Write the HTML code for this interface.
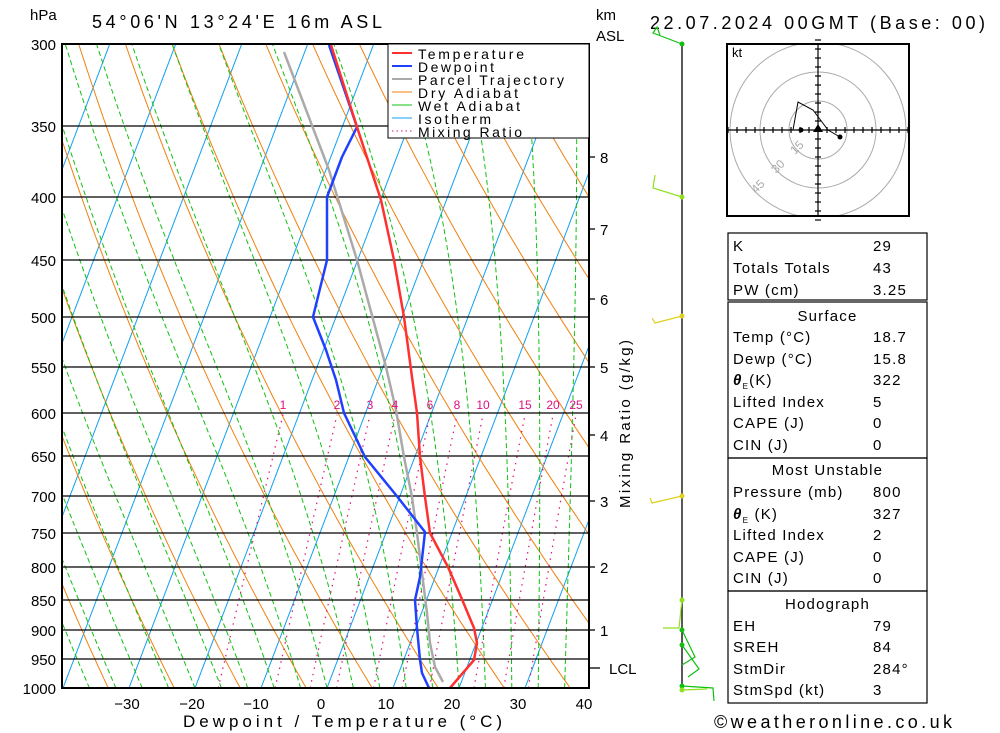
<!DOCTYPE html>
<html><head><meta charset="utf-8">
<style>
body{margin:0;background:#fff;}
svg{display:block;font-family:"Liberation Sans",sans-serif;}
</style></head><body>
<svg id="s" width="1000" height="733" viewBox="0 0 1000 733" xmlns="http://www.w3.org/2000/svg">
<defs><clipPath id="c"><rect x="62" y="44" width="527" height="644"/></clipPath></defs>
<rect width="1000" height="733" fill="#fff"/>
<g id="bg" clip-path="url(#c)"></g>
<g fill="none" stroke="#000" stroke-width="1.3">
<line x1="62" y1="44" x2="589" y2="44"/><line x1="62" y1="126" x2="589" y2="126"/><line x1="62" y1="197" x2="589" y2="197"/><line x1="62" y1="260" x2="589" y2="260"/><line x1="62" y1="317" x2="589" y2="317"/><line x1="62" y1="367" x2="589" y2="367"/><line x1="62" y1="413" x2="589" y2="413"/><line x1="62" y1="456" x2="589" y2="456"/><line x1="62" y1="496" x2="589" y2="496"/><line x1="62" y1="533" x2="589" y2="533"/><line x1="62" y1="567" x2="589" y2="567"/><line x1="62" y1="600" x2="589" y2="600"/><line x1="62" y1="630" x2="589" y2="630"/><line x1="62" y1="659" x2="589" y2="659"/><line x1="62" y1="688" x2="589" y2="688"/>
</g>
<g clip-path="url(#c)" fill="none" stroke-linejoin="round">
<polyline stroke="#aaa" stroke-width="2.5" points="284,52 329,170 357,260 386,367 396,410 404,457 412,497 417,533 422,573 427,613 430,643 435,667 443,682"/>
<polyline stroke="#2040ff" stroke-width="2.5" points="329,45 357,127 342,157 327,197 327,260 313,317 326,350 336,380 344,413 365,457 396,495 425,532 420,577 415,600 417,628 420,660 422,673 429,688"/>
<polyline stroke="#ff3030" stroke-width="2.5" points="331,45 357,127 381,200 394,260 404,317 412,377 417,413 420,457 425,497 430,533 448,567 461,597 474,628 477,643 474,660 450,688"/>
</g>
<rect x="62" y="44" width="527" height="644" fill="none" stroke="#000" stroke-width="2"/>
<g>
<rect x="388" y="44" width="201" height="94" fill="#fff" stroke="#000" stroke-width="1"/>
<line x1="392" y1="53" x2="412" y2="53" stroke="#ff3030" stroke-width="2"/>
<line x1="392" y1="66" x2="412" y2="66" stroke="#2040ff" stroke-width="2"/>
<line x1="392" y1="79" x2="412" y2="79" stroke="#aaa" stroke-width="2"/>
<line x1="392" y1="92" x2="412" y2="92" stroke="#f08010" stroke-width="1"/>
<line x1="392" y1="105" x2="412" y2="105" stroke="#10c010" stroke-width="1"/>
<line x1="392" y1="118" x2="412" y2="118" stroke="#10a0f0" stroke-width="1"/>
<line x1="392" y1="131" x2="412" y2="131" stroke="#e01080" stroke-width="1" stroke-dasharray="1.5,3"/>
<g font-size="14" fill="#000">
<text x="418" y="59" textLength="106">Temperature</text><text x="418" y="72" textLength="76">Dewpoint</text><text x="418" y="85" textLength="146">Parcel Trajectory</text><text x="418" y="98" textLength="100">Dry Adiabat</text><text x="418" y="111" textLength="102">Wet Adiabat</text><text x="418" y="124" textLength="73">Isotherm</text><text x="418" y="137" textLength="104">Mixing Ratio</text>
</g></g>
<g id="mrl" font-size="12" fill="#e01080" text-anchor="middle"></g>
<g font-size="15" fill="#000">
<text x="30" y="20">hPa</text>
<text x="92" y="28" font-size="18" textLength="290">54°06'N 13°24'E 16m ASL</text>
<text x="596" y="20">km</text><text x="596" y="41">ASL</text>
<text x="650" y="29" font-size="18" textLength="335">22.07.2024 00GMT (Base: 00)</text>
<g text-anchor="end">
<text x="56" y="50">300</text><text x="56" y="132">350</text><text x="56" y="203">400</text><text x="56" y="266">450</text><text x="56" y="323">500</text><text x="56" y="373">550</text><text x="56" y="419">600</text><text x="56" y="462">650</text><text x="56" y="502">700</text><text x="56" y="539">750</text><text x="56" y="573">800</text><text x="56" y="606">850</text><text x="56" y="636">900</text><text x="56" y="665">950</text><text x="56" y="694">1000</text>
</g>
<g text-anchor="middle">
<text x="127" y="709">−30</text><text x="192" y="709">−20</text><text x="256" y="709">−10</text><text x="321" y="709">0</text><text x="386" y="709">10</text><text x="452" y="709">20</text><text x="518" y="709">30</text><text x="584" y="709">40</text>
</g>
<text x="183" y="727" font-size="17" textLength="319">Dewpoint / Temperature (°C)</text>
<text x="600" y="163">8</text><text x="600" y="235">7</text><text x="600" y="305">6</text><text x="600" y="373">5</text><text x="600" y="441">4</text><text x="600" y="507">3</text><text x="600" y="573">2</text><text x="600" y="636">1</text><text x="609" y="674">LCL</text>
<text transform="translate(630,508) rotate(-90)" textLength="168">Mixing Ratio (g/kg)</text>
<text x="714" y="728" font-size="18" textLength="238">©weatheronline.co.uk</text>
</g>
<g stroke="#000" stroke-width="1.3">
<line x1="589" y1="157" x2="595" y2="157"/><line x1="589" y1="229" x2="595" y2="229"/><line x1="589" y1="299" x2="595" y2="299"/><line x1="589" y1="367" x2="595" y2="367"/><line x1="589" y1="435" x2="595" y2="435"/><line x1="589" y1="501" x2="595" y2="501"/><line x1="589" y1="567" x2="595" y2="567"/><line x1="589" y1="630" x2="595" y2="630"/><line x1="589" y1="668" x2="600" y2="668"/>
<line x1="682" y1="44" x2="682" y2="690"/>
</g>
<g fill="none" stroke-width="1.2">
<polyline stroke="#10c010" points="682,44 653,33 657,27 660,35"/>
<polyline stroke="#90e020" points="682,197 653,188 655,175"/>
<polyline stroke="#e0d020" points="682,316 655,323 652,318"/>
<polyline stroke="#e0d020" points="682,496 652,503 650,498"/>
<polyline stroke="#90e020" points="682,600 679,628 663,628"/>
<polyline stroke="#10c010" points="682,630 695,657 682,665"/>
<polyline stroke="#10c010" points="682,645 699,669 688,677"/>
<polyline stroke="#10c010" points="682,686 713,688 714,701"/>
<polyline stroke="#90e020" points="682,690 707,689"/>
</g>
<g>
<circle cx="682" cy="44" r="2.5" fill="#10c010"/><circle cx="682" cy="197" r="2.5" fill="#90e020"/><circle cx="682" cy="316" r="2.5" fill="#e0d020"/><circle cx="682" cy="496" r="2.5" fill="#e0d020"/><circle cx="682" cy="600" r="2.5" fill="#90e020"/><circle cx="682" cy="630" r="2.5" fill="#10c010"/><circle cx="682" cy="645" r="2.5" fill="#10c010"/><circle cx="682" cy="686" r="2.5" fill="#10c010"/><circle cx="682" cy="690" r="2.5" fill="#90e020"/>
</g>
<g>
<clipPath id="hc"><rect x="727" y="44" width="182" height="172"/></clipPath>
<g clip-path="url(#hc)" fill="none" stroke="#aaa" stroke-width="1">
<circle cx="818" cy="130" r="29"/><circle cx="818" cy="130" r="58"/><circle cx="818" cy="130" r="88"/>
</g>
<g stroke="#000" stroke-width="1.2" id="hx">
<line x1="727" y1="130" x2="909" y2="130"/><line x1="818" y1="44" x2="818" y2="216"/>
</g>
<g font-size="12" fill="#aaa">
<text transform="translate(795,155) rotate(-45)">15</text><text transform="translate(776,174) rotate(-45)">30</text><text transform="translate(756,194) rotate(-45)">45</text>
</g>
<polyline fill="none" stroke="#000" stroke-width="1" points="793,130 798,102 813,110 822,122 828,130 840,137"/>
<circle cx="801" cy="130" r="2.5"/><circle cx="840" cy="137" r="2.5"/>
<polygon points="818,124 813,132 823,132"/>
<rect x="727" y="44" width="182" height="172" fill="none" stroke="#000" stroke-width="2"/>
<text x="732" y="57" font-size="13">kt</text>
</g>
<g fill="none" stroke="#000" stroke-width="1.2">
<rect x="728" y="233" width="199" height="67"/>
<rect x="728" y="302" width="199" height="156"/>
<rect x="728" y="458" width="199" height="133"/>
<rect x="728" y="591" width="199" height="112"/>
</g>
</svg>
<script>
var s="http://www.w3.org/2000/svg";
var K=0.38*535;
function X(T,p){return 327+6.6*T+K*Math.log(1000/p);}
function Y(p){return 688-535*Math.log(1000/p);}
function pl(pts,col,w,dash,parent){var e=document.createElementNS(s,"polyline");e.setAttribute("points",pts.map(function(a){return a[0].toFixed(1)+","+a[1].toFixed(1)}).join(" "));e.setAttribute("fill","none");e.setAttribute("stroke",col);e.setAttribute("stroke-width",w);if(dash)e.setAttribute("stroke-dasharray",dash);parent.appendChild(e);}
var bg=document.getElementById("bg");
for(var T=-120;T<=40;T+=10){pl([[X(T,1050),Y(1050)],[X(T,280),Y(280)]],"#10a0f0",1,null,bg);}
for(var th=230;th<=480;th+=10){var a=[];for(var p=1050;p>=280;p-=10){a.push([X(th*Math.pow(p/1000,0.286)-273.15,p),Y(p)]);}pl(a,"#f08010",1,null,bg);}
function es(T){return 6.112*Math.exp(17.67*T/(T+243.5));}
for(var T0=-40;T0<=40;T0+=4){var T=T0+273.15,a=[];for(var p=1000;p>=290;p-=5){a.push([X(T-273.15,p),Y(p)]);var e=es(T-273.15),rs=0.622*e/(p-e);var d=(287*T+2.5e6*rs)/(1005+2.5e6*2.5e6*rs*0.622/(287*T*T))/p;T-=d*5;}pl(a,"#10c010",1,"5,3",bg);}
function td(w,p){var e=w*p/(622+w),l=Math.log(e/6.112);return 243.5*l/(17.67-l);}
var ws=[1,2,3,4,6,8,10,15,20,25],lx=[283,337,370,395,430,457,483,525,553,576],ml=document.getElementById("mrl");
ws.forEach(function(w,i){var a=[];var t6=td(w,600);for(var p=1000;p>=600;p-=10){a.push([lx[i]+6.6*(td(w,p)-t6)-K*Math.log(p/600),Y(p)]);}pl(a,"#e01080",1.2,"1.5,5",bg);var t=document.createElementNS(s,"text");t.setAttribute("x",lx[i]);t.setAttribute("y","409");t.textContent=String(w);ml.appendChild(t);});
var hx=document.getElementById("hx");
for(var i=-10;i<=10;i++){if(!i)continue;var l=document.createElementNS(s,"line");l.setAttribute("x1",818+i*9);l.setAttribute("x2",818+i*9);l.setAttribute("y1",127);l.setAttribute("y2",133);hx.appendChild(l);var m=document.createElementNS(s,"line");m.setAttribute("y1",130+i*9);m.setAttribute("y2",130+i*9);m.setAttribute("x1",815);m.setAttribute("x2",821);hx.appendChild(m);}
</script>
<div style="position:absolute;left:0;top:0;width:1000px;height:733px;pointer-events:none;font-family:'Liberation Sans',sans-serif;font-size:15px;color:#000;letter-spacing:1.2px;">
<div style="position:absolute;left:733px;top:238px">K</div><div style="position:absolute;left:873px;top:238px">29</div>
<div style="position:absolute;left:733px;top:260px">Totals Totals</div><div style="position:absolute;left:873px;top:260px">43</div>
<div style="position:absolute;left:733px;top:282px">PW (cm)</div><div style="position:absolute;left:873px;top:282px">3.25</div>
<div style="position:absolute;left:728px;top:308px;width:199px;text-align:center">Surface</div>
<div style="position:absolute;left:733px;top:329px">Temp (°C)</div><div style="position:absolute;left:873px;top:329px">18.7</div>
<div style="position:absolute;left:733px;top:351px">Dewp (°C)</div><div style="position:absolute;left:873px;top:351px">15.8</div>
<div style="position:absolute;left:733px;top:372px"><i><b>θ</b></i><sub style="font-size:8px">E</sub>(K)</div><div style="position:absolute;left:873px;top:372px">322</div>
<div style="position:absolute;left:733px;top:394px">Lifted Index</div><div style="position:absolute;left:873px;top:394px">5</div>
<div style="position:absolute;left:733px;top:415px">CAPE (J)</div><div style="position:absolute;left:873px;top:415px">0</div>
<div style="position:absolute;left:733px;top:437px">CIN (J)</div><div style="position:absolute;left:873px;top:437px">0</div>
<div style="position:absolute;left:728px;top:462px;width:199px;text-align:center">Most Unstable</div>
<div style="position:absolute;left:733px;top:484px">Pressure (mb)</div><div style="position:absolute;left:873px;top:484px">800</div>
<div style="position:absolute;left:733px;top:506px"><i><b>θ</b></i><sub style="font-size:8px">E</sub> (K)</div><div style="position:absolute;left:873px;top:506px">327</div>
<div style="position:absolute;left:733px;top:527px">Lifted Index</div><div style="position:absolute;left:873px;top:527px">2</div>
<div style="position:absolute;left:733px;top:549px">CAPE (J)</div><div style="position:absolute;left:873px;top:549px">0</div>
<div style="position:absolute;left:733px;top:570px">CIN (J)</div><div style="position:absolute;left:873px;top:570px">0</div>
<div style="position:absolute;left:728px;top:596px;width:199px;text-align:center">Hodograph</div>
<div style="position:absolute;left:733px;top:618px">EH</div><div style="position:absolute;left:873px;top:618px">79</div>
<div style="position:absolute;left:733px;top:639px">SREH</div><div style="position:absolute;left:873px;top:639px">84</div>
<div style="position:absolute;left:733px;top:661px">StmDir</div><div style="position:absolute;left:873px;top:661px">284°</div>
<div style="position:absolute;left:733px;top:682px">StmSpd (kt)</div><div style="position:absolute;left:873px;top:682px">3</div>
</div>
</body></html>
